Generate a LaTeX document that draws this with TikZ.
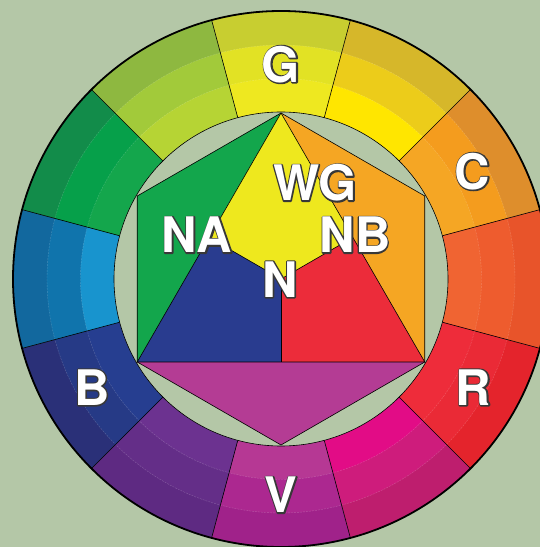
\documentclass[tikz,border=0pt]{standalone}
\usepackage{fontspec}
\setmainfont{TeX Gyre Heros}
\usetikzlibrary{calc}
\definecolor{bg}{HTML}{B4C7A7}
% ring colours: outer / middle / inner
\definecolor{Ga}{HTML}{C8CE30}\definecolor{Gb}{HTML}{E2E224}\definecolor{Gc}{HTML}{EEE820}
\definecolor{YOa}{HTML}{D6B72A}\definecolor{YOb}{HTML}{ECCC1A}\definecolor{YOc}{HTML}{FFE600}
\definecolor{Ca}{HTML}{DE8E2C}\definecolor{Cb}{HTML}{F49C1E}\definecolor{Cc}{HTML}{F5A624}
\definecolor{ORa}{HTML}{E8542A}\definecolor{ORb}{HTML}{EE5C2E}\definecolor{ORc}{HTML}{F06432}
\definecolor{Ra}{HTML}{E4242C}\definecolor{Rb}{HTML}{EA2A36}\definecolor{Rc}{HTML}{EE2C3A}
\definecolor{RVa}{HTML}{BE1E6E}\definecolor{RVb}{HTML}{CE1C7C}\definecolor{RVc}{HTML}{E20C86}
\definecolor{Va}{HTML}{A0228A}\definecolor{Vb}{HTML}{AC2890}\definecolor{Vc}{HTML}{B63894}
\definecolor{VBa}{HTML}{5E2A82}\definecolor{VBb}{HTML}{642E88}\definecolor{VBc}{HTML}{6C3290}
\definecolor{Ba}{HTML}{2A3078}\definecolor{Bb}{HTML}{263A86}\definecolor{Bc}{HTML}{263E90}
\definecolor{BGa}{HTML}{12689E}\definecolor{BGb}{HTML}{1074AC}\definecolor{BGc}{HTML}{1894CE}
\definecolor{GBa}{HTML}{128C4A}\definecolor{GBb}{HTML}{06A04A}\definecolor{GBc}{HTML}{14A64C}
\definecolor{YGa}{HTML}{8EB840}\definecolor{YGb}{HTML}{A2CA3A}\definecolor{YGc}{HTML}{B6D434}
% inner figure colours
\definecolor{inGreen}{HTML}{13A64C}
\definecolor{inYellow}{HTML}{EEE81E}
\definecolor{inOrange}{HTML}{F5A623}
\definecolor{inBlue}{HTML}{293C8F}
\definecolor{inRed}{HTML}{EC2C3A}
\definecolor{inPurple}{HTML}{B43C94}
\newcommand\strokedtext[1]{\special{pdf:literal direct 1 Tr 2.6 w 0.22 0.22 0.22 RG 1 j}#1\special{pdf:literal direct 0 Tr}}
\tikzset{
  lab/.style={inner sep=0pt, font=\fontsize{49}{49}\selectfont\bfseries, text=white, anchor=center},
  edge/.style={draw=black, line width=0.6pt, line join=round},
}
\newcommand\olab[3]{%
  \node[lab] at (#2) {\strokedtext{#3}};
  \node[lab] (#1) at (#2) {#3};}
\begin{document}
\begin{tikzpicture}[x=1pt,y=1pt]
\useasboundingbox (0,0) rectangle (540,547);
\clip (0,0) rectangle (540,547);
\fill[bg] (0,0) rectangle (540,547);
\begin{scope}[shift={(281,268)}]
  \foreach \a/\o/\m/\i in {90/Ga/Gb/Gc, 60/YOa/YOb/YOc, 30/Ca/Cb/Cc, 0/ORa/ORb/ORc,
      -30/Ra/Rb/Rc, -60/RVa/RVb/RVc, -90/Va/Vb/Vc, -120/VBa/VBb/VBc,
      -150/Ba/Bb/Bc, -180/BGa/BGb/BGc, -210/GBa/GBb/GBc, -240/YGa/YGb/YGc} {
    \fill[\o] (0,0) -- ({\a-15}:268) arc[start angle=\a-15, end angle=\a+15, radius=268] -- cycle;
    \fill[\m] (0,0) -- ({\a-15}:234) arc[start angle=\a-15, end angle=\a+15, radius=234] -- cycle;
    \fill[\i] (0,0) -- ({\a-15}:200.5) arc[start angle=\a-15, end angle=\a+15, radius=200.5] -- cycle;
  }
  \draw[white, opacity=0.22, line width=0.4pt, dash pattern=on 2pt off 1pt] (0,0) circle[radius=234];
  \draw[white, opacity=0.22, line width=0.4pt, dash pattern=on 2pt off 1pt] (0,0) circle[radius=200.5];
  \foreach \a in {75,45,...,-255} \draw[black, line width=0.6pt] (\a:167) -- (\a:268);
  \draw[black, line width=1.8pt] (0,0) circle[radius=268];
  \fill[bg] (0,0) circle[radius=167];
  \draw[black, line width=0.6pt] (0,0) circle[radius=167];
  % inner figure
  \coordinate (T) at (90:166);
  \coordinate (UR) at (30:166);
  \coordinate (LR) at (-30:166);
  \coordinate (Bt) at (-90:166);
  \coordinate (LL) at (210:166);
  \coordinate (UL) at (150:166);
  \coordinate (O) at (0,0);
  \coordinate (ML) at ($(T)!0.5!(LL)$);
  \coordinate (MR) at ($(T)!0.5!(LR)$);
  \coordinate (MB) at ($(LL)!0.5!(LR)$);
  \fill[inGreen] (T) -- (UL) -- (LL) -- cycle;
  \fill[inOrange] (T) -- (UR) -- (LR) -- cycle;
  \fill[inPurple] (LL) -- (Bt) -- (LR) -- cycle;
  \fill[inYellow] (T) -- (ML) -- (O) -- (MR) -- cycle;
  \fill[inBlue] (ML) -- (LL) -- (MB) -- (O) -- cycle;
  \fill[inRed] (MR) -- (O) -- (MB) -- (LR) -- cycle;
  \draw[edge] (T) -- (UR) -- (LR) -- (Bt) -- (LL) -- (UL) -- cycle;
  \draw[edge] (T) -- (LL) -- (LR) -- cycle;
  \draw[edge] (ML) -- (O) -- (MR);
  \draw[edge] (O) -- (MB);
\end{scope}
\olab{g}{281,482.5}{G}
\olab{c}{472.5,375.5}{C}
\olab{r}{473.5,159.5}{R}
\olab{b}{92,159.5}{B}
\olab{v}{281,52}{V}
\olab{wg}{315,364}{WG}
\olab{na}{197,312}{NA}
\olab{nb}{355,312}{NB}
\olab{n}{280,267.5}{N}
\end{tikzpicture}
\end{document}
